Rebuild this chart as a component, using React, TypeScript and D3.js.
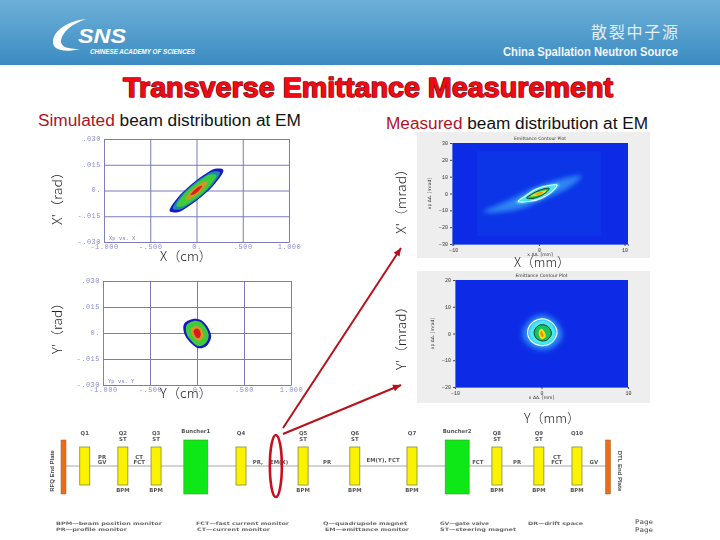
import React, { useRef, useEffect } from "react";
import * as d3 from "d3";

type Pt = [number, number];

// simulated beam (x cm, x' rad), outlines, outer to inner
const simXBlue: Pt[] = [[-0.29, -0.012], [-0.2, -0.004], [-0.1, 0.0015], [0, 0.006], [0.1, 0.0097], [0.2, 0.0126], [0.29, 0.012], [0.2, 0.004], [0.1, -0.0015], [0, -0.006], [-0.1, -0.0097], [-0.2, -0.0126]];
const simXTeal: Pt[] = [[-0.255, -0.0106], [-0.176, -0.0035], [-0.088, 0.0013], [0, 0.0053], [0.088, 0.0085], [0.176, 0.0111], [0.255, 0.0106], [0.176, 0.0035], [0.088, -0.0013], [0, -0.0053], [-0.088, -0.0085], [-0.176, -0.0111]];
const simXGreen: Pt[] = [[-0.215, -0.0089], [-0.148, -0.003], [-0.074, 0.0011], [0, 0.0044], [0.074, 0.0072], [0.148, 0.0093], [0.215, 0.0089], [0.148, 0.003], [0.074, -0.0011], [0, -0.0044], [-0.074, -0.0072], [-0.148, -0.0093]];
const simXOrange: Pt[] = [[-0.122, -0.005], [-0.084, -0.0017], [-0.042, 0.0006], [0, 0.0025], [0.042, 0.0041], [0.084, 0.0053], [0.122, 0.005], [0.084, 0.0017], [0.042, -0.0006], [0, -0.0025], [-0.042, -0.0041], [-0.084, -0.0053]];
const simXRed: Pt[] = [[-0.064, -0.0026], [-0.03, -0.0002], [0, 0.0013], [0.03, 0.0024], [0.064, 0.0026], [0.03, 0.0002], [0, -0.0013], [-0.03, -0.0024]];

const simYBlue: Pt[] = [[-0.135, 0.0055], [-0.02, 0.0082], [0.07, 0.0064], [0.15, -0.0014], [0.106, -0.0072], [0.018, -0.0088], [-0.09, -0.0043], [-0.14, 0.0006]];
const simYGreen: Pt[] = [[-0.11, 0.0046], [-0.015, 0.007], [0.06, 0.0054], [0.125, -0.0012], [0.09, -0.0061], [0.015, -0.0076], [-0.075, -0.0036], [-0.115, 0.0005]];
const simYOrange: Pt[] = [[-0.06, 0.0024], [-0.01, 0.0042], [0.035, 0.003], [0.07, -0.0008], [0.05, -0.0036], [0.01, -0.0046], [-0.04, -0.002], [-0.065, 0.0003]];
const simYRed: Pt[] = [[-0.035, 0.0014], [-0.005, 0.0026], [0.025, 0.0018], [0.04, -0.0006], [0.03, -0.0024], [0.005, -0.003], [-0.025, -0.0012]];

const simXTicks = [-1, -0.5, 0, 0.5, 1];
const simXLabels = ["-1.000", "-.500", "0.", ".500", "1.000"];
const simYTicks = [0.03, 0.015, 0, -0.015, -0.03];
const simYLabels = [".030", ".015", "0.", "-.015", "-.030"];

// measured beam (mm, mrad)
const measXGlowWide: Pt[] = [[-6.5, -11], [-3.5, -4], [-0.5, 3.5], [2.5, 8.5], [5, 10.5], [3.5, 3.5], [0.5, -3.5], [-2.5, -9.5]];
const measXGlowCyan: Pt[] = [[-2.7, -5.5], [-1.7, -1.6], [-0.4, 2.8], [1.1, 5], [2.4, 5.5], [1.7, 1.6], [0.4, -2.8], [-1.1, -5]];
const measXWhite: Pt[] = [[-2.4, -4.7], [-1.6, -1.6], [-0.4, 2.4], [1, 4.6], [2.1, 5], [1.6, 1.4], [0.4, -2.6], [-1, -4.6]];
const measXBlack: Pt[] = [[-1.45, -2.7], [-0.8, -0.3], [0.05, 1.9], [0.8, 3], [1.2, 3], [0.8, 0.5], [-0.05, -1.9], [-0.8, -3]];
const measXYellow: Pt[] = [[-1, -1.7], [-0.45, 0.1], [0.2, 1.2], [0.9, 1.8], [0.55, 0], [-0.2, -1.3]];
const measXOrange: Pt[] = [[-0.5, -0.7], [-0.1, 0.3], [0.5, 0.8], [0.15, -0.3]];

const measYGlowWide: Pt[] = [[-2.2, 0.5], [-1.2, 5.5], [0.2, 7], [1.7, 4.5], [2.4, -1], [1.2, -5.5], [-0.4, -6], [-1.8, -3.4]];
const measYGlowCyan: Pt[] = [[-1.5, 0.5], [-0.9, 4], [0.2, 5.2], [1.3, 3.4], [1.7, -0.4], [1, -3.8], [-0.2, -4.4], [-1.2, -2.5]];
const measYWhite: Pt[] = [[-1.6, 0.8], [-1, 4.2], [0.1, 5.5], [1.3, 3.8], [1.8, 0.2], [1.1, -3.6], [0, -4.5], [-1.2, -2.8]];
const measYBlack: Pt[] = [[-0.85, 0.5], [-0.5, 2.6], [0.1, 3.3], [0.8, 2.4], [1.15, 0], [0.7, -2.3], [0.1, -2.8], [-0.6, -1.8]];
const measYYellow: Pt[] = [[-0.32, 0.5], [-0.15, 1.6], [0.05, 1.8], [0.35, 0.6], [0.5, -1], [0.25, -1.9], [0, -2.1], [-0.25, -0.9]];
const measYOrange: Pt[] = [[-0.12, 0.4], [0, 0.9], [0.15, 0], [0.25, -0.9], [0.1, -1.3], [-0.1, -0.5]];

// beamline elements, positions in % of the RFQ to DTL distance
const quadNames = ["Q1", "Q2", "Q3", "Q4", "Q5", "Q6", "Q7", "Q8", "Q9", "Q10"];
const quadPos = [3.9, 10.9, 17, 32.6, 44, 53.5, 64, 79.6, 87.3, 94.3];
const steererPos = [10.9, 17, 44, 53.5, 79.6, 87.3];
const bpmPos = [10.9, 17, 44, 53.5, 64, 79.6, 87.3, 94.3];
const buncherNames = ["Buncher1", "Buncher2"];
const buncherPos = [24.3, 72.3];
const platePos = [0, 100];
const plateNames = ["RFQ End Plate", "DTL End Plate"];
const diagUpper = [["PR", 7.1], ["CT", 13.9], ["CT", 90.6]] as [string, number][];
const diagLower = [["GV", 7.1], ["FCT", 13.9], ["FCT", 90.6]] as [string, number][];
const diagSingle = [["PR,", 35.7], ["EM(X)", 39.6], ["PR", 48.4], ["EM(Y), FCT", 58.7], ["FCT", 76.1], ["PR", 83.3], ["GV", 97.4]] as [string, number][];

const legendRow1 = ["BPM—beam position monitor", "FCT—fast current monitor", "Q—quadrupole magnet", "GV—gate valve", "DR—drift space"];
const legendRow2 = ["PR—profile monitor", "CT—current monitor", "EM—emittance monitor", "ST—steering magnet"];

const mono = "'Liberation Mono', monospace";
const sans = "'Liberation Sans', Arial, sans-serif";
const cjk = "'Noto Sans CJK SC', sans-serif";
const tiny = "'DejaVu Sans', sans-serif";

const App: React.FC = () => {
  const svgRef = useRef<SVGSVGElement | null>(null);

  useEffect(() => {
    if (!svgRef.current) return;
    const svg = d3.select(svgRef.current);
    svg.selectAll("*").remove();

    const defs = svg.append("defs");
    const grad = defs.append("linearGradient").attr("id", "band").attr("x2", 0).attr("y2", 1);
    grad.append("stop").attr("offset", 0).attr("stop-color", "#6db0d8");
    grad.append("stop").attr("offset", 1).attr("stop-color", "#3b8bc2");
    const blurs: [string, number][] = [["soft", 0.35], ["glow", 2.6], ["glow2", 1.2]];
    blurs.forEach(([id, s]) =>
      defs
        .append("filter")
        .attr("id", id)
        .attr("x", "-50%")
        .attr("y", "-50%")
        .attr("width", "200%")
        .attr("height", "200%")
        .append("feGaussianBlur")
        .attr("stdDeviation", s)
    );

    svg.append("rect").attr("width", 720).attr("height", 540).attr("fill", "#fff");

    // header
    svg.append("rect").attr("width", 720).attr("height", 65).attr("fill", "url(#band)");
    svg
      .append("path")
      .attr("d", "M86,19 C68,21 54,30 53,41 C52,50 64,53 80,49 C68,49 60,47 61,40 C63,31 72,24 86,19 Z")
      .attr("fill", "#fff");
    svg
      .append("text")
      .attr("x", 78)
      .attr("y", 43)
      .attr("textLength", 48)
      .attr("lengthAdjust", "spacingAndGlyphs")
      .attr("font-family", sans)
      .attr("font-weight", 700)
      .attr("font-style", "italic")
      .attr("font-size", 20)
      .attr("fill", "#fff")
      .text("SNS");
    svg
      .append("text")
      .attr("x", 90)
      .attr("y", 54)
      .attr("textLength", 105)
      .attr("lengthAdjust", "spacingAndGlyphs")
      .attr("font-family", sans)
      .attr("font-weight", 700)
      .attr("font-style", "italic")
      .attr("font-size", 7)
      .attr("fill", "#fff")
      .text("CHINESE ACADEMY OF SCIENCES");
    svg
      .append("text")
      .attr("x", 591)
      .attr("y", 38)
      .attr("textLength", 87)
      .attr("font-family", cjk)
      .attr("font-size", 16)
      .attr("fill", "#e2edf4")
      .text("散裂中子源");
    svg
      .append("text")
      .attr("x", 503)
      .attr("y", 56)
      .attr("textLength", 175)
      .attr("lengthAdjust", "spacingAndGlyphs")
      .attr("font-family", "'Liberation Sans Narrow', 'Liberation Sans', sans-serif")
      .attr("font-weight", 700)
      .attr("font-size", 13)
      .attr("fill", "#f2f6fa")
      .text("China Spallation Neutron Source");

    // title, dark fringe first and then the stroke that fattens the red letters
    svg
      .append("text")
      .attr("x", 123)
      .attr("y", 97)
      .attr("textLength", 490)
      .attr("lengthAdjust", "spacingAndGlyphs")
      .attr("font-family", sans)
      .attr("font-weight", 700)
      .attr("font-size", 27)
      .attr("fill", "#f00a14")
      .attr("stroke", "#7a1014")
      .attr("stroke-width", 1.4)
      .attr("stroke-linejoin", "round")
      .attr("paint-order", "stroke")
      .text("Transverse Emittance Measurement");

    const subtitle = (x: number, y: number, w: number, red: string) => {
      const t = svg
        .append("text")
        .attr("x", x)
        .attr("y", y)
        .attr("textLength", w)
        .attr("lengthAdjust", "spacingAndGlyphs")
        .attr("font-family", sans)
        .attr("font-size", 16)
        .attr("fill", "#111");
      t.append("tspan").attr("fill", "#b01226").text(red);
      t.append("tspan").text(" beam distribution  at EM");
    };
    subtitle(38, 126, 263, "Simulated");
    subtitle(386, 129, 262, "Measured");

    const root = svg.append("g").attr("filter", "url(#soft)");

    const contour = d3.line().curve(d3.curveCatmullRomClosed.alpha(0.5));

    // simulated phase space plots
    const simPlot = (
      x0: number,
      x1: number,
      y0: number,
      y1: number,
      caption: string,
      layers: [Pt[], string][]
    ) => {
      const x = d3.scaleLinear().domain([-1, 1]).range([x0, x1]);
      const y = d3.scaleLinear().domain([-0.03, 0.03]).range([y1, y0]);
      const g = root.append("g");
      const xAxis = g
        .append("g")
        .attr("transform", `translate(0,${y1})`)
        .call(
          d3
            .axisBottom(x)
            .tickValues(simXTicks)
            .tickSize(y0 - y1)
            .tickFormat((_, i) => simXLabels[i])
        );
      const yAxis = g
        .append("g")
        .attr("transform", `translate(${x0},0)`)
        .call(
          d3
            .axisLeft(y)
            .tickValues(simYTicks)
            .tickSize(x0 - x1)
            .tickFormat((_, i) => simYLabels[i])
        );
      [xAxis, yAxis].forEach((a) => {
        a.select(".domain").attr("stroke", "#7f7fc0");
        a.selectAll("line").attr("stroke", "#7a7abc").attr("stroke-width", 1);
        a.selectAll("text")
          .attr("font-family", mono)
          .attr("font-size", 7)
          .attr("letter-spacing", 0.5)
          .attr("fill", "#8c8cd4");
      });
      // a negative tick size sends the labels inward, put them back outside
      xAxis.selectAll("text").attr("y", 2).attr("dy", "0.71em");
      yAxis.selectAll("text").attr("x", -3).attr("dy", "0.2em").attr("text-anchor", "end");
      layers.forEach(([pts, fill]) => {
        g.append("path")
          .attr("d", contour(pts.map((p) => [x(p[0]), y(p[1])] as [number, number])))
          .attr("fill", fill);
      });
      g.append("text")
        .attr("x", x0 + 5)
        .attr("y", y1 - 2)
        .attr("font-family", mono)
        .attr("font-size", 5.5)
        .attr("fill", "#7878c0")
        .text(caption);
    };
    simPlot(104, 289, 139, 242, "Xp vs. X", [
      [simXBlue, "#1414c4"],
      [simXTeal, "#1d8aa8"],
      [simXGreen, "#3ecb3a"],
      [simXOrange, "#c89a28"],
      [simXRed, "#dc1f1f"],
    ]);
    simPlot(103, 291, 281, 385, "Yp vs. Y", [
      [simYBlue, "#1414c4"],
      [simYGreen, "#3ecb3a"],
      [simYOrange, "#d09a20"],
      [simYRed, "#e01424"],
    ]);

    // measured contour plots
    const measPlot = (
      panel: [number, number, number, number],
      x0: number,
      x1: number,
      y0: number,
      y1: number,
      xDomain: [number, number],
      yTicks: number[],
      glowWide: Pt[],
      glowCyan: Pt[],
      white: Pt[],
      black: Pt[],
      yellow: Pt[],
      orange: Pt[],
      inner: boolean
    ) => {
      const x = d3.scaleLinear().domain(xDomain).range([x0, x1]);
      const yMax = yTicks[0];
      const y = d3.scaleLinear().domain([-yMax, yMax]).range([y1, y0]);
      const id = `clip${x0}`;
      defs
        .append("clipPath")
        .attr("id", id)
        .append("rect")
        .attr("x", x0)
        .attr("y", y0)
        .attr("width", x1 - x0)
        .attr("height", y1 - y0);
      const g = root.append("g");
      g.append("rect")
        .attr("x", panel[0])
        .attr("y", panel[1])
        .attr("width", panel[2] - panel[0])
        .attr("height", panel[3] - panel[1])
        .attr("fill", "#eeeeee");
      g.append("rect")
        .attr("x", x0)
        .attr("y", y0)
        .attr("width", x1 - x0)
        .attr("height", y1 - y0)
        .attr("fill", "#0a2ce6");
      if (inner) {
        g.append("rect")
          .attr("x", x(-7.2))
          .attr("y", y(25))
          .attr("width", x(7.2) - x(-7.2))
          .attr("height", y(-25) - y(25))
          .attr("fill", "#0c34e8");
      }
      const shape = (pts: Pt[]) => contour(pts.map((p) => [x(p[0]), y(p[1])] as [number, number]));
      const clip = g.append("g").attr("clip-path", `url(#${id})`);
      clip.append("path").attr("d", shape(glowWide)).attr("fill", "#2f86f4").attr("filter", "url(#glow)");
      clip.append("path").attr("d", shape(glowCyan)).attr("fill", "#4ce8f4").attr("filter", "url(#glow2)");
      clip.append("path").attr("d", shape(white)).attr("fill", "none").attr("stroke", "#eefcff").attr("stroke-width", 1.2);
      clip.append("path").attr("d", shape(black)).attr("fill", "#1cc05c").attr("stroke", "#0c3c2c").attr("stroke-width", 1);
      clip.append("path").attr("d", shape(yellow)).attr("fill", "#f4e010");
      clip.append("path").attr("d", shape(orange)).attr("fill", "#f08a10");

      const xAxis = g
        .append("g")
        .attr("transform", `translate(0,${y1})`)
        .call(d3.axisBottom(x).tickValues([-10, 0, 10]).tickSize(2).tickPadding(2).tickFormat(d3.format("d")));
      const yAxis = g
        .append("g")
        .attr("transform", `translate(${x0},0)`)
        .call(d3.axisLeft(y).tickValues(yTicks).tickSize(2).tickPadding(2).tickFormat(d3.format("d")));
      [xAxis, yAxis].forEach((a) => {
        a.select(".domain").attr("stroke", "#5a78e8");
        a.selectAll("line").attr("stroke", "#444");
        a.selectAll("text").attr("font-family", mono).attr("font-size", 5).attr("fill", "#333");
      });
      const small = (tx: number, ty: number, s: string, rot = 0) =>
        g
          .append("text")
          .attr("transform", `translate(${tx},${ty}) rotate(${rot})`)
          .attr("text-anchor", "middle")
          .attr("font-family", tiny)
          .attr("font-size", 4.5)
          .attr("fill", "#333")
          .text(s);
      small((x0 + x1) / 2, y0 - 3, "Emittance Contour Plot");
      small((x0 + x1) / 2, y1 + 12, "x ΔΔ. [mm]");
      small(x0 - 21, (y0 + y1) / 2, "xp ΔΔ. [mrad]", -90);
    };
    const measXTicks = [30, 20, 10, 0, -10, -20, -30];
    const measYTicks = [20, 10, 0, -10, -20];
    measPlot([417, 132, 650, 258], 452, 628, 143, 244, [-10.15, 10.4], measXTicks, measXGlowWide, measXGlowCyan, measXWhite, measXBlack, measXYellow, measXOrange, true);
    measPlot([417, 271, 650, 403], 455, 628, 280, 387, [-10, 10], measYTicks, measYGlowWide, measYGlowCyan, measYWhite, measYBlack, measYYellow, measYOrange, false);

    // axis captions
    const cap = (cx: number, cy: number, w: number, s: string, rot = 0) =>
      svg
        .append("text")
        .attr("transform", `translate(${cx},${cy}) rotate(${rot})`)
        .attr("text-anchor", "middle")
        .attr("textLength", w)
        .attr("lengthAdjust", "spacingAndGlyphs")
        .attr("font-family", cjk)
        .attr("font-weight", 300)
        .attr("font-size", 13)
        .attr("fill", "#222")
        .text(s);
    cap(62, 195, 60, "X'（rad）", -90);
    cap(62, 325, 58, "Y'（rad）", -90);
    cap(406, 198, 72, "X'（mrad）", -90);
    cap(406, 335, 70, "Y'（mrad）", -90);
    cap(186, 261, 52, "X（cm）");
    cap(186, 398, 52, "Y（cm）");
    cap(542, 267, 56, "X（mm）");
    cap(552, 423, 56, "Y（mm）");

    // beamline
    const bx = d3.scaleLinear().domain([0, 100]).range([63.5, 608]);
    const line = root.append("g");
    line
      .append("line")
      .attr("x1", bx(0))
      .attr("x2", bx(100))
      .attr("y1", 466)
      .attr("y2", 466)
      .attr("stroke", "#a8a8a0")
      .attr("stroke-width", 1);
    const label = (px: number, py: number, s: string) =>
      line
        .append("text")
        .attr("x", px)
        .attr("y", py)
        .attr("text-anchor", "middle")
        .attr("font-family", tiny)
        .attr("font-weight", 700)
        .attr("font-size", 5.4)
        .attr("fill", "#555")
        .text(s);

    line
      .selectAll("rect.quad")
      .data(quadPos)
      .join("rect")
      .attr("class", "quad")
      .attr("x", (d) => bx(d) - 5)
      .attr("y", 447)
      .attr("width", 10)
      .attr("height", 38)
      .attr("fill", "#fbf200")
      .attr("stroke", "#8a8a30")
      .attr("stroke-width", 0.8);
    line
      .selectAll("rect.buncher")
      .data(buncherPos)
      .join("rect")
      .attr("class", "buncher")
      .attr("x", (d) => bx(d) - 12)
      .attr("y", 440)
      .attr("width", 24)
      .attr("height", 54)
      .attr("fill", "#0fe812")
      .attr("stroke", "#3a9a3a")
      .attr("stroke-width", 0.6);
    line
      .selectAll("rect.plate")
      .data(platePos)
      .join("rect")
      .attr("class", "plate")
      .attr("x", (d) => bx(d) - 2.5)
      .attr("y", 440)
      .attr("width", 5)
      .attr("height", 54)
      .attr("fill", "#ee6c14")
      .attr("stroke", "#a06030")
      .attr("stroke-width", 0.5);

    quadNames.forEach((n, i) => label(bx(quadPos[i]), 435, n));
    steererPos.forEach((p) => label(bx(p), 440.5, "ST"));
    bpmPos.forEach((p) => label(bx(p), 492, "BPM"));
    buncherNames.forEach((n, i) => label(bx(buncherPos[i]), 433, n));
    diagUpper.forEach(([s, p]) => label(bx(p), 459, s));
    diagLower.forEach(([s, p]) => label(bx(p), 464, s));
    diagSingle.forEach(([s, p]) => label(bx(p), s.startsWith("EM(Y)") ? 462 : 463.5, s));

    platePos.forEach((p, i) => {
      line
        .append("text")
        .attr("transform", `translate(${bx(p) + (i === 0 ? -10 : 10)},471) rotate(${i === 0 ? -90 : 90})`)
        .attr("text-anchor", "middle")
        .attr("font-family", "'Liberation Sans Narrow', sans-serif")
        .attr("font-weight", 700)
        .attr("font-size", 6)
        .attr("fill", "#444")
        .text(plateNames[i]);
    });

    // legend
    const row1X = [56, 196, 323, 440, 528];
    const row1W = [106, 93, 84, 49, 55];
    const row2X = [56, 197, 325, 440];
    const row2W = [71, 73, 84, 76];
    const legendText = (px: number, py: number, w: number, s: string) =>
      line
        .append("text")
        .attr("x", px)
        .attr("y", py)
        .attr("textLength", w)
        .attr("lengthAdjust", "spacingAndGlyphs")
        .attr("font-family", tiny)
        .attr("font-weight", 700)
        .attr("font-size", 4.6)
        .attr("fill", "#666")
        .text(s);
    legendRow1.forEach((s, i) => legendText(row1X[i], 525, row1W[i], s));
    legendRow2.forEach((s, i) => legendText(row2X[i], 530.5, row2W[i], s));

    // markers over the beamline
    svg
      .append("ellipse")
      .attr("cx", bx(39))
      .attr("cy", 466)
      .attr("rx", 6)
      .attr("ry", 31)
      .attr("fill", "none")
      .attr("stroke", "#c8101c")
      .attr("stroke-width", 2.6);
    const arrow = (x1: number, y1: number, x2: number, y2: number) => {
      svg
        .append("line")
        .attr("x1", x1)
        .attr("y1", y1)
        .attr("x2", x2)
        .attr("y2", y2)
        .attr("stroke", "#b8101c")
        .attr("stroke-width", 2);
      const a = Math.atan2(y2 - y1, x2 - x1);
      const pts = [
        [x2, y2],
        [x2 - 8 * Math.cos(a) + 3.5 * Math.sin(a), y2 - 8 * Math.sin(a) - 3.5 * Math.cos(a)],
        [x2 - 8 * Math.cos(a) - 3.5 * Math.sin(a), y2 - 8 * Math.sin(a) + 3.5 * Math.cos(a)],
      ];
      svg.append("polygon").attr("points", pts.join(" ")).attr("fill", "#b8101c");
    };
    arrow(283, 428, 401, 248);
    arrow(283, 434, 401, 385);

    // footer stamp
    ["Page", "Page"].forEach((s, i) =>
      svg
        .append("text")
        .attr("x", 635)
        .attr("y", 524 + i * 7.5)
        .attr("textLength", 18)
        .attr("lengthAdjust", "spacingAndGlyphs")
        .attr("font-family", "'DejaVu Sans Mono', monospace")
        .attr("font-size", 6.4)
        .attr("fill", "#444")
        .text(s)
    );
  }, []);

  return (
    <svg
      ref={svgRef}
      width={720}
      height={540}
      style={{ position: "absolute", left: 0, top: 0, display: "block" }}
    />
  );
};

export default App;
